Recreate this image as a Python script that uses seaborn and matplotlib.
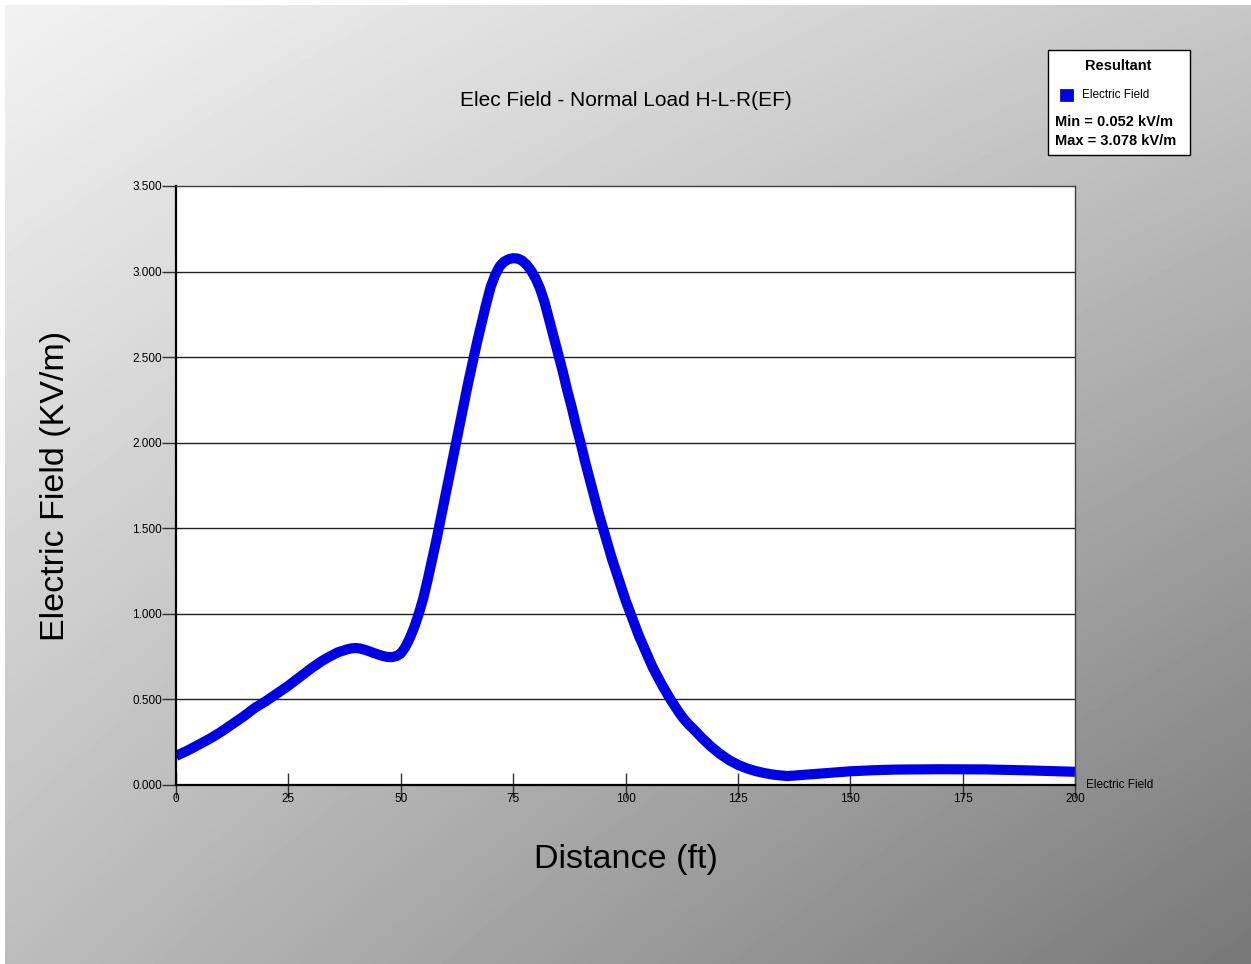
import numpy as np
import pandas as pd
import seaborn as sns
import matplotlib.pyplot as plt
from matplotlib.patches import Rectangle

# values
distance_ft = [0, 2.5, 5, 7.5, 10, 12.5, 15, 17.5, 20, 22.5, 25, 27.5, 30, 32.5,
               34, 36, 38, 39, 40, 41, 42, 43, 44, 45, 46, 47, 48, 49,
               50, 51, 52, 53, 54, 55, 56, 57, 58, 59, 60, 61, 62, 63, 64, 65,
               66, 67, 68, 69, 70, 71, 72, 73, 74, 75, 76, 77, 78, 79, 80,
               81, 82, 83, 84, 85, 86, 87, 88, 89, 90, 91, 92, 93, 94, 95, 96, 97, 98,
               99, 100, 101, 102, 103, 104, 105, 106, 107, 108, 109, 110, 111, 112,
               113, 114, 115,
               117, 119, 121, 123, 125, 127, 129, 131, 133, 136, 139, 142, 146, 150,
               155, 160, 170, 180, 190, 200]
field_kvm = [0.17, 0.20, 0.235, 0.27, 0.31, 0.355, 0.40, 0.45, 0.49, 0.535, 0.58, 0.63, 0.68, 0.725,
             0.748, 0.775, 0.792, 0.798, 0.80, 0.797, 0.79, 0.781, 0.771, 0.762, 0.754, 0.748, 0.747, 0.753,
             0.768, 0.805, 0.858, 0.922, 1.00, 1.09, 1.20, 1.32, 1.44, 1.57, 1.70, 1.83, 1.96, 2.09, 2.22, 2.35,
             2.47, 2.59, 2.70, 2.81, 2.91, 2.98, 3.03, 3.058, 3.072, 3.078, 3.076, 3.064, 3.04, 3.005, 2.96,
             2.90, 2.82, 2.72, 2.62, 2.52, 2.42, 2.31, 2.21, 2.10, 2.00, 1.89, 1.79, 1.69, 1.59, 1.50, 1.41, 1.32, 1.24,
             1.16, 1.08, 1.01, 0.94, 0.87, 0.81, 0.75, 0.69, 0.64, 0.59, 0.545, 0.50, 0.46, 0.42,
             0.385, 0.355, 0.33,
             0.275, 0.225, 0.182, 0.146, 0.118, 0.097, 0.081, 0.069, 0.06, 0.052, 0.058, 0.064, 0.072, 0.08,
             0.086, 0.09, 0.092, 0.091, 0.085, 0.077]

x_ticks = [0, 25, 50, 75, 100, 125, 150, 175, 200]
y_ticks = [0, 0.5, 1.0, 1.5, 2.0, 2.5, 3.0, 3.5]

title = "Elec Field - Normal Load H-L-R(EF)"
series_name = "Electric Field"

df = pd.DataFrame({"Distance": distance_ft, "Field": field_kvm})

sns.set_theme(style="white", rc={"text.color": "black", "axes.labelcolor": "black",
                                 "xtick.color": "black", "ytick.color": "black"})
plt.rcParams['font.family'] = ['Liberation Sans', 'DejaVu Sans']

W, H = 1251, 964
fig = plt.figure(figsize=(12.51, 9.64), dpi=100)
fig.patch.set_facecolor("white")

# diagonal grey gradient background
bg = fig.add_axes([0, 0, 1, 1], zorder=-10)
u, v = np.meshgrid(np.linspace(0, 1, 300), np.linspace(0, 1, 300))
shade = 0.95 - 0.17 * u - 0.21 * v - 0.10 * u * v
bg.imshow(shade, cmap="gray", vmin=0, vmax=1, aspect="auto", extent=[0, 1, 0, 1], origin="upper")
bg.axis("off")
# thin white strips on the left and top edges
for rect in [(0, 0, 5 / W, 1), (0, 1 - 5 / H, 1, 5 / H)]:
    fig.patches.append(Rectangle(rect[:2], rect[2], rect[3], transform=fig.transFigure,
                                 facecolor="white", edgecolor="none", zorder=-5))

ax = fig.add_axes([0.1407, 0.1857, 0.7186, 0.6214])
ax.set_facecolor("white")
sns.lineplot(data=df, x="Distance", y="Field", ax=ax, color="#0000e6", linewidth=7.3)
for l in ax.lines:
    l.set_solid_joinstyle("round")
    l.set_solid_capstyle("butt")

ax.set_xlim(0, 200)
ax.set_ylim(0, 3.5)
ax.set_xticks(x_ticks)
ax.set_yticks(y_ticks)
ax.set_yticklabels([f"{t:.3f}" for t in y_ticks])
ax.set_xticklabels([str(t) for t in x_ticks])
for t in y_ticks[1:-1]:
    ax.axhline(t, color="#202020", lw=1.0, zorder=0)

ax.tick_params(axis="y", direction="out", length=10, width=1, color="#303030",
               labelsize=8.5, pad=0, left=True)
ax.tick_params(axis="x", direction="inout", length=18, width=1, color="#303030",
               labelsize=8.5, pad=-3, bottom=True)
for s in ["left", "bottom"]:
    ax.spines[s].set_color("black")
    ax.spines[s].set_linewidth(1.6)
for s in ["top", "right"]:
    ax.spines[s].set_color("#404040")
    ax.spines[s].set_linewidth(1.0)

ax.set_xlabel("Distance (ft)", fontsize=24.5, labelpad=28)
ax.set_ylabel("Electric Field (KV/m)", fontsize=24.5, labelpad=44)
ax.text(1.012, 0.0, series_name, transform=ax.transAxes, fontsize=8.5,
        va="center", ha="left")

fig.text(626 / W, 1 - 101 / H, title, fontsize=15, ha="center", va="center")

# legend box
box = Rectangle((1048 / W, 1 - 155 / H), 142 / W, 105 / H, transform=fig.transFigure,
                facecolor="white", edgecolor="black", lw=1.0, zorder=5)
fig.patches.append(box)
fig.text(1118 / W, 1 - 66 / H, "Resultant", fontsize=10.5, fontweight="bold",
         ha="center", va="center", zorder=6)
sq = Rectangle((1060 / W, 1 - 101 / H), 13 / W, 12 / H, transform=fig.transFigure,
               facecolor="#0000e6", edgecolor="#000080", lw=0.5, zorder=6)
fig.patches.append(sq)
fig.text(1082 / W, 1 - 95 / H, series_name, fontsize=8.5, ha="left", va="center", zorder=6)
fig.text(1055 / W, 1 - 122 / H, f"Min = {min(field_kvm):.3f} kV/m", fontsize=10.5,
         fontweight="bold", ha="left", va="center", zorder=6)
fig.text(1055 / W, 1 - 141 / H, f"Max = {max(field_kvm):.3f} kV/m", fontsize=10.5,
         fontweight="bold", ha="left", va="center", zorder=6)

fig.savefig("out.png", dpi=100)
